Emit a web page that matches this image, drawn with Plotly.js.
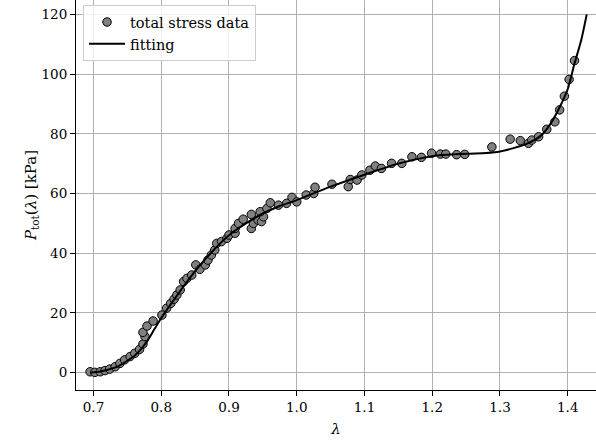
<!DOCTYPE html>
<html>
<head>
<meta charset="utf-8">
<script src="https://cdn.plot.ly/plotly-3.0.1.min.js"></script>
<style>html,body{margin:0;padding:0;background:#fff;}#chart{width:596px;height:444px;}</style>
</head>
<body>
<div id="chart"></div>
<script>
// measured data (stretch lambda, total stress kPa)
const dataLambda = [0.695,0.702,0.710,0.717,0.724,0.732,0.739,0.746,0.754,0.761,0.768,0.773,0.776,0.773,0.779,0.788,0.801,0.808,0.814,0.819,0.823,0.828,0.833,0.838,0.845,0.851,0.857,0.865,0.869,0.874,0.879,0.882,0.889,0.897,0.900,0.909,0.909,0.914,0.921,0.933,0.936,0.933,0.943,0.948,0.951,0.946,0.956,0.961,0.973,0.985,0.993,1.000,1.014,1.025,1.027,1.052,1.076,1.079,1.089,1.096,1.108,1.116,1.125,1.140,1.155,1.170,1.184,1.199,1.212,1.220,1.236,1.248,1.288,1.315,1.330,1.342,1.347,1.357,1.369,1.381,1.388,1.395,1.402,1.410];
const dataStress = [0.3,0.1,0.3,0.7,1.2,2.0,3.1,4.3,5.4,6.5,7.8,9.6,12.1,13.5,15.6,17.3,19.3,21.6,23.2,24.6,26.0,27.7,30.5,31.6,32.7,36.1,34.6,36.1,37.7,39.4,41.1,43.3,43.9,45.0,46.1,46.7,48.3,50.0,51.4,48.3,50.0,53.0,51.1,50.6,52.2,53.9,55.0,56.9,56.1,56.7,58.7,57.2,59.5,60.0,62.1,63.1,62.3,64.7,64.5,66.2,67.8,69.2,68.4,70.1,70.1,72.3,72.1,73.5,73.2,73.2,73.0,73.1,75.6,78.2,77.7,76.8,77.9,79.0,81.5,84.0,88.0,92.6,98.2,104.5];
// fitted curve
const fitLambda = [0.695,0.71,0.72,0.735,0.75,0.76,0.77,0.78,0.79,0.80,0.82,0.85,0.875,0.90,0.925,0.95,0.975,1.0,1.05,1.10,1.15,1.20,1.25,1.28,1.30,1.32,1.34,1.36,1.375,1.39,1.40,1.41,1.42,1.428];
const fitStress = [0.0,0.4,0.9,2.0,4.0,5.6,7.8,10.8,14.6,18.3,24.8,34.0,40.5,46.0,50.0,53.3,55.8,57.8,62.3,66.3,70.0,72.5,73.3,73.6,74.1,75.2,76.7,79.3,83.5,89.8,95.0,103.5,111.5,120.0];
const xTicks = [0.7,0.8,0.9,1.0,1.1,1.2,1.3,1.4];
const yTicks = [0,20,40,60,80,100,120];

const serif = "'DejaVu Serif', 'Liberation Serif', serif";
const font = {family: serif, size: 13.5, color: '#000'};

const traces = [
  {x: dataLambda, y: dataStress, mode: 'markers', type: 'scatter', name: 'total stress data',
   marker: {size: 8.5, color: '#808080', line: {color: '#000', width: 1}}},
  {x: fitLambda, y: fitStress, mode: 'lines', type: 'scatter', name: 'fitting',
   line: {color: '#000', width: 2, shape: 'spline', smoothing: 0.8}}
];

const layout = {
  width: 596, height: 444,
  margin: {l: 76, r: 0, t: 0, b: 54},
  paper_bgcolor: '#fff', plot_bgcolor: '#fff',
  font: font,
  showlegend: true,
  legend: {x: 0.0135, y: 0.987, xanchor: 'left', yanchor: 'top',
           bgcolor: 'rgba(255,255,255,0.8)', bordercolor: '#cccccc', borderwidth: 1,
           font: {family: serif, size: 14.5, color: '#000'}, tracegroupgap: 0, itemwidth: 36},
  xaxis: {range: [0.6742, 1.4417], tickvals: xTicks, ticktext: xTicks.map(v => v.toFixed(1)),
          showgrid: true, gridcolor: '#b0b0b0', gridwidth: 1, zeroline: false,
          showline: true, linecolor: '#000', linewidth: 1, ticks: 'outside', ticklen: 5, tickcolor: '#000',
          tickfont: {family: serif, size: 13.5},
          title: {text: '<i>λ</i>', font: {family: serif, size: 15}, standoff: 9}},
  yaxis: {range: [-5.8, 124.8], tickvals: yTicks,
          showgrid: true, gridcolor: '#b0b0b0', gridwidth: 1, zeroline: false,
          showline: true, linecolor: '#000', linewidth: 1, ticks: 'outside', ticklen: 5, tickcolor: '#000',
          tickfont: {family: serif, size: 13.5},
          title: {text: '<i>P</i><sub>tot</sub>(<i>λ</i>) [kPa]', font: {family: serif, size: 15}, standoff: 1}}
};

Plotly.newPlot('chart', traces, layout, {displayModeBar: false, staticPlot: true});
</script>
</body>
</html>
